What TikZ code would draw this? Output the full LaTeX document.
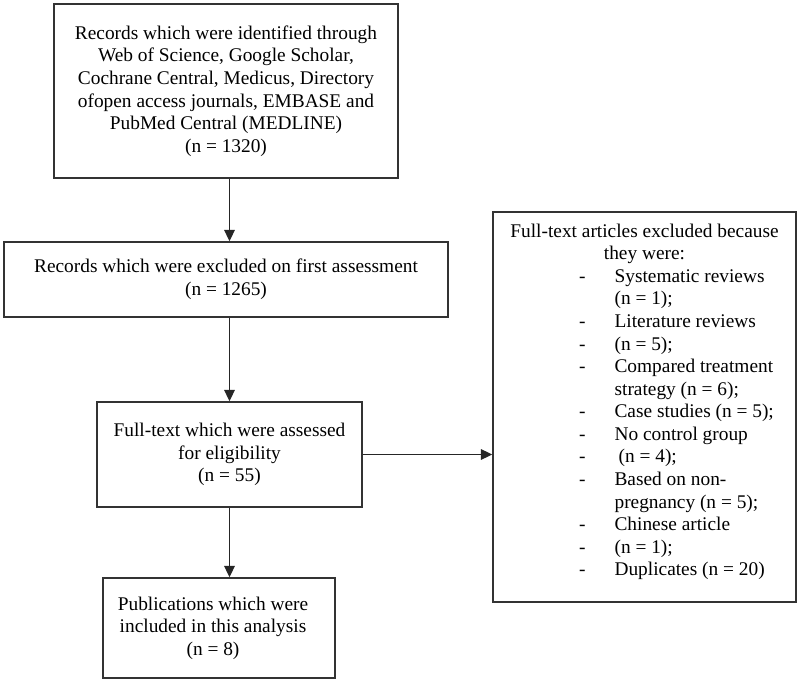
\documentclass[tikz,border=0pt]{standalone}
\usepackage{fontspec}
\setmainfont{Liberation Serif}
\usetikzlibrary{arrows.meta}
\newlength\pxu
\setlength\pxu{0.62pt}

\begin{document}
\begin{tikzpicture}[x=0.62pt,y=-0.62pt,
    box/.style={draw=black!80,line width=0.9pt,align=center,inner sep=0pt,
                font=\fontsize{12}{14}\selectfont},
    arr/.style={draw=black!85,line width=0.9pt,-{Triangle[length=7pt,width=6.5pt]}}]
    \useasboundingbox (0,0) rectangle (800,683);
    \node[box,minimum width=344\pxu,minimum height=174\pxu] (ident) at (226,91)
        {Records which were identified through\\ Web of Science, Google Scholar,\\
         Cochrane Central, Medicus, Directory\\ ofopen access journals, EMBASE and\\
         PubMed Central (MEDLINE)\\ (n = 1320)};
    \node[box,minimum width=444\pxu,minimum height=75\pxu] (screen) at (226,279.5)
        {Records which were excluded on first assessment\\ (n = 1265)};
    \node[box,minimum width=265\pxu,minimum height=105\pxu] (fulltext) at (229.5,454.5)
        {Full-text which were assessed\\ for eligibility\\ (n = 55)};
    \node[box,minimum width=232\pxu,minimum height=100\pxu] (incl) at (219,628)
        {\hspace*{-12\pxu}Publications which were\\ \hspace*{-12\pxu}included in this analysis\\ \hspace*{-12\pxu}(n = 8)};
    \node[box,minimum width=303\pxu,minimum height=390\pxu] (excl) at (644.5,407)
        {Full-text articles excluded because\\ they were:\\
         \hspace*{64\pxu}\begin{tabular}[t]{@{}l@{\hspace{29\pxu}}l@{}}
            - & Systematic reviews\\
              & (n = 1);\\
            - & Literature reviews\\
            - & (n = 5);\\
            - & Compared treatment\\
              & strategy (n = 6);\\
            - & Case studies (n = 5);\\
            - & No control group\\
            - & \hspace{2.5pt}(n = 4);\\
            - & Based on non-\\
              & pregnancy (n = 5);\\
            - & Chinese article\\
            - & (n = 1);\\
            - & Duplicates (n = 20)
         \end{tabular}\\[6\pxu]};
    % connectors
    \draw[arr] (ident.south -| fulltext.north) -- (screen.north -| fulltext.north);
    \draw[arr] (screen.south -| fulltext.north) -- (fulltext.north);
    \draw[arr] (fulltext.south) -- (incl.north -| fulltext.south);
    \draw[arr] (fulltext.east) -- (fulltext.east -| excl.west);
\end{tikzpicture}
\end{document}
